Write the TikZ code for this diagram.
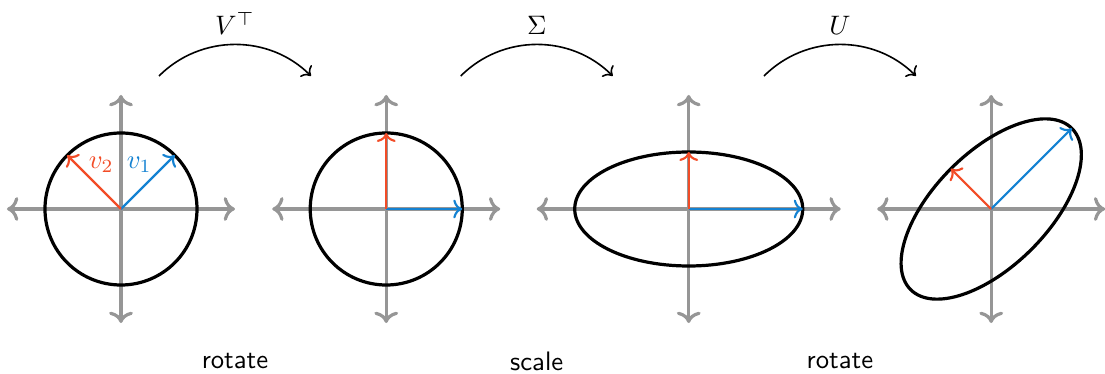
\documentclass[tikz,border=0pt]{standalone}
\usepackage{amsmath,amssymb}
\usetikzlibrary{arrows.meta,positioning,calc}
\definecolor{vecred}{RGB}{242,76,39}
\definecolor{vecblue}{RGB}{20,130,210}
\definecolor{axgray}{RGB}{150,150,150}

\begin{document}
\begin{tikzpicture}[
  every node/.style={font=\normalsize},
  ax/.style={draw=axgray, very thick, <->},
  outline/.style={draw=black, very thick},
  vone/.style={draw=vecblue, thick, ->},
  vtwo/.style={draw=vecred, thick, ->},
  hop/.style={->, semithick, bend left=45}]
\useasboundingbox (-1.592,-2.158) rectangle (12.947,2.75);
% panel centres
\coordinate (c1) at (0,0);
\coordinate (c2) at (3.49,0);
\coordinate (c3) at (7.47,0);
\coordinate (c4) at (11.45,0);
% unit circle with v1, v2
\draw[ax] ($(c1)+(-1.5,0)$) -- ($(c1)+(1.5,0)$);
\draw[ax] ($(c1)+(0,-1.5)$) -- ($(c1)+(0,1.5)$);
\draw[outline] (c1) circle (1);
\draw[vone] (c1) -- ++(45:1);
\draw[vtwo] (c1) -- ++(135:1);
\node[text=vecblue] (lv1) at (0.24,0.58) {$v_1$};
\node[text=vecred] (lv2) at (-0.26,0.58) {$v_2$};
% after V^T
\draw[ax] ($(c2)+(-1.5,0)$) -- ($(c2)+(1.5,0)$);
\draw[ax] ($(c2)+(0,-1.5)$) -- ($(c2)+(0,1.5)$);
\draw[outline] (c2) circle (1);
\draw[vone] (c2) -- ++(1,0);
\draw[vtwo] (c2) -- ++(0,1);
% after Sigma
\draw[ax] ($(c3)+(-2,0)$) -- ($(c3)+(2,0)$);
\draw[ax] ($(c3)+(0,-1.5)$) -- ($(c3)+(0,1.5)$);
\draw[outline] (c3) ellipse [x radius=1.5, y radius=0.75];
\draw[vone] (c3) -- ++(1.5,0);
\draw[vtwo] (c3) -- ++(0,0.75);
% after U
\draw[ax] ($(c4)+(-1.5,0)$) -- ($(c4)+(1.5,0)$);
\draw[ax] ($(c4)+(0,-1.5)$) -- ($(c4)+(0,1.5)$);
\draw[outline, rotate around={45:(c4)}] (c4) ellipse [x radius=1.5, y radius=0.75];
\draw[vone] (c4) -- ++(45:1.5);
\draw[vtwo] (c4) -- ++(135:0.75);
% maps
\coordinate (h1a) at (0.5,1.75);  \coordinate (h1b) at (2.5,1.75);
\coordinate (h2a) at (4.47,1.75); \coordinate (h2b) at (6.47,1.75);
\coordinate (h3a) at (8.46,1.75); \coordinate (h3b) at (10.46,1.75);
\draw[hop] (h1a) to node[above] (lvt) {$V^\top$} (h1b);
\draw[hop] (h2a) to node[above] (lsig) {$\Sigma$} (h2b);
\draw[hop] (h3a) to node[above] (lu) {$U$} (h3b);
\node (t1) at (1.5,-2) {\textsf{rotate}};
\node (t2) at (5.47,-2) {\textsf{scale}};
\node (t3) at (9.46,-2) {\textsf{rotate}};
\end{tikzpicture}
\end{document}
